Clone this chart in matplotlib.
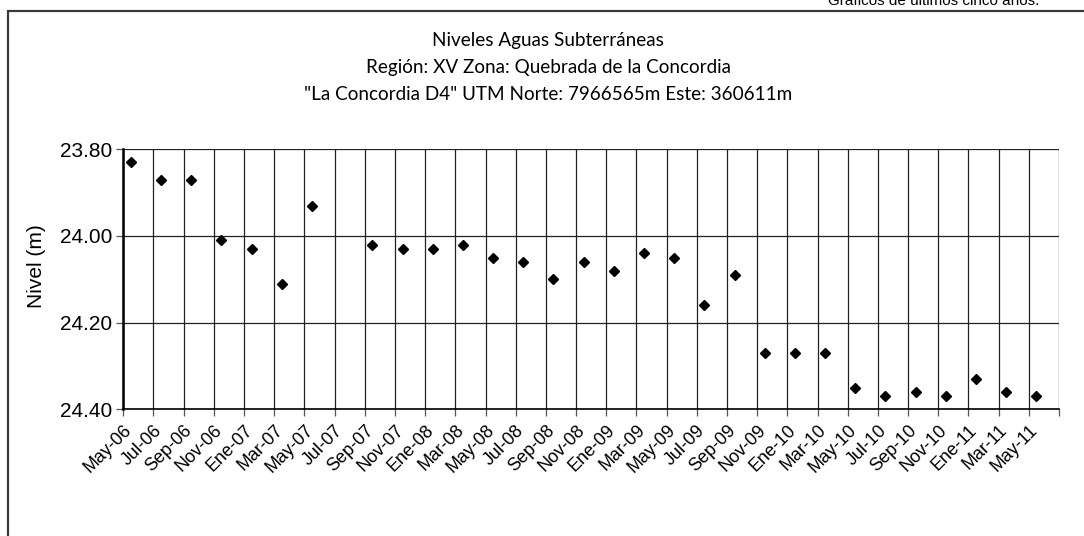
import matplotlib
matplotlib.use("Agg")
import matplotlib.pyplot as plt
from matplotlib.patches import Rectangle

# ---- data ----
tick_labels = ["May-06", "Jul-06", "Sep-06", "Nov-06",
               "Ene-07", "Mar-07", "May-07", "Jul-07", "Sep-07", "Nov-07",
               "Ene-08", "Mar-08", "May-08", "Jul-08", "Sep-08", "Nov-08",
               "Ene-09", "Mar-09", "May-09", "Jul-09", "Sep-09", "Nov-09",
               "Ene-10", "Mar-10", "May-10", "Jul-10", "Sep-10", "Nov-10",
               "Ene-11", "Mar-11", "May-11"]

meas_periods = ["May-06", "Jul-06", "Sep-06", "Nov-06", "Ene-07", "Mar-07", "May-07",
                "Sep-07", "Nov-07", "Ene-08", "Mar-08", "May-08", "Jul-08", "Sep-08",
                "Nov-08", "Ene-09", "Mar-09", "May-09", "Jul-09", "Sep-09", "Nov-09",
                "Ene-10", "Mar-10", "May-10", "Jul-10", "Sep-10", "Nov-10", "Ene-11",
                "Mar-11", "May-11"]
nivel = [23.83, 23.87, 23.87, 24.01, 24.03, 24.11, 23.93,
         24.02, 24.03, 24.03, 24.02, 24.05, 24.06, 24.10,
         24.06, 24.08, 24.04, 24.05, 24.16, 24.09, 24.27,
         24.27, 24.27, 24.35, 24.37, 24.36, 24.37, 24.33,
         24.36, 24.37]

title_lines = ["Niveles Aguas Subterráneas",
               "Región: XV Zona: Quebrada de la Concordia",
               "\"La Concordia D4\" UTM Norte: 7966565m Este: 360611m"]

# months since May-06 (mid-month positions)
x_pts = [tick_labels.index(p) * 2 + 0.5 for p in meas_periods]

W, H = 1084, 536
fig = plt.figure(figsize=(W / 100, H / 100), dpi=100)
fig.patch.set_facecolor("white")

# outer frame (extends beyond right/bottom edges)
frame = Rectangle((8 / W, -0.05), 1.2, 1 - 11 / H + 0.05, transform=fig.transFigure,
                  fill=False, edgecolor="#3a3a3a", linewidth=1.6)
fig.add_artist(frame)

fig.text(1039 / W, 1 - 5 / H, "Gráficos de últimos cinco años.", ha="right", va="baseline",
         fontsize=11, family="Liberation Sans", color="black")

baselines = [45.7, 73.0, 99.5]
for line, yb in zip(title_lines, baselines):
    fig.text(548 / W, 1 - yb / H, line, ha="center", va="baseline",
             fontsize=13.6, family="Lato", color="black")

left, right, top, bottom = 123.3, 1059, 149.3, 409.3
ax = fig.add_axes([left / W, 1 - bottom / H, (right - left) / W, (bottom - top) / H])

ax.plot(x_pts, nivel, linestyle="none", marker="D", markersize=5.5,
        color="black", markeredgecolor="black", zorder=3)

n_int = len(tick_labels)  # 31 intervals
ax.set_xlim(0, n_int * 2)
ax.set_ylim(24.40, 23.80)
xt = list(range(0, n_int * 2 + 1, 2))
ax.set_xticks(xt)
ax.set_xticklabels(tick_labels + [""], rotation=45, ha="right",
                   rotation_mode="anchor", fontsize=13, family="Liberation Sans")
yt = [23.80, 24.00, 24.20, 24.40]
ax.set_yticks(yt)
ax.set_yticklabels([f"{v:.2f}" for v in yt], fontsize=15, family="Liberation Sans")

ax.grid(True, which="major", color="#222222", linewidth=0.9)
ax.set_axisbelow(True)
for s in ["top", "right"]:
    ax.spines[s].set_visible(False)
ax.spines["left"].set_linewidth(1.8)
ax.spines["left"].set_color("black")
ax.spines["bottom"].set_linewidth(1.2)
ax.spines["bottom"].set_color("black")
ax.tick_params(axis="x", direction="out", length=5, width=0.9, color="#555555", pad=4)
ax.tick_params(axis="y", direction="out", length=5, width=0.9, color="#555555", pad=3)

fig.text(37 / W, 1 - 266 / H, "Nivel (m)", rotation=90, ha="center", va="center",
         fontsize=15, family="Liberation Sans")

fig.savefig("out.png", dpi=100, facecolor="white")
